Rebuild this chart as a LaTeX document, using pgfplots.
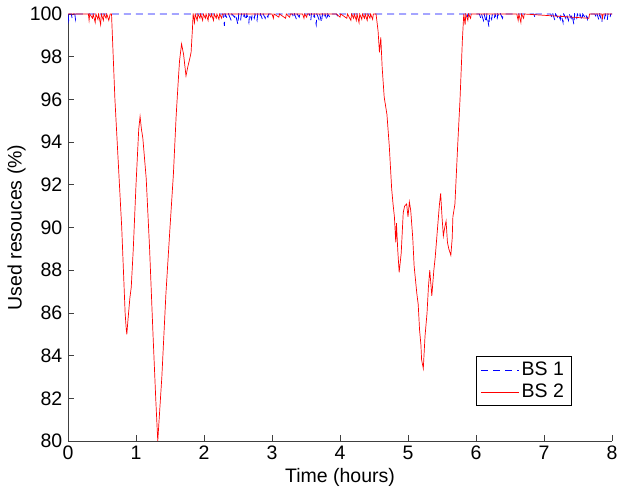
\documentclass[border=0pt]{standalone}
\usepackage{pgfplots}
\pgfplotsset{compat=1.18}
\usepackage{fontspec}
\setmainfont{Liberation Sans}
\begin{document}
\fontsize{19.5bp}{23bp}\selectfont
\begin{tikzpicture}
\begin{axis}[
  scale only axis,
  width=544bp, height=427bp,
  xmin=0, xmax=8, ymin=80, ymax=100,
  xtick={0,1,...,8},
  ytick={80,82,...,100},
  axis x line*=bottom, axis y line*=left,
  axis line style={black!75, line width=0.7pt},
  tick style={black!75, line width=0.7pt},
  tick align=inside,
  major tick length=6bp,
  /pgf/number format/assume math mode=true,
  ticklabel style={font=\fontsize{19.5bp}{23bp}\selectfont},
  label style={font=\fontsize{19.5bp}{23bp}\selectfont},
  xlabel={Time (hours)},
  ylabel={Used resouces (\%)},
  xlabel style={yshift=4bp},
  ylabel style={yshift=-9bp},
  xticklabel style={yshift=2bp},
  yticklabel style={xshift=1bp},
  legend style={at={(0.925,0.082)}, anchor=south east, line width=0.6pt,
    font=\fontsize{19.5bp}{23bp}\selectfont, inner xsep=5bp, inner ysep=3bp, row sep=2bp,
    cells={anchor=west}},
  legend image code/.code={\draw[#1, line width=0.7pt] (0bp,0bp) -- (38bp,0bp);},
  clip=true,
]
\addplot[blue, line width=0.8pt, dash pattern=on 7bp off 5bp] coordinates {
(0,100)(0.01,99.7)(0.02,100)(0.05,100)(0.06,99.8)(0.07,100)(0.1,100)(0.11,99.75)(0.12,100)
(2.28,100)(2.30,99.45)(2.31,100)(2.34,99.8)(2.36,100)(2.40,99.7)(2.41,100)(2.45,99.85)(2.46,100)(2.50,99.5)(2.51,100)(2.54,99.75)(2.55,100)(2.58,99.8)(2.59,100)(2.62,99.7)(2.63,100)(2.66,99.6)(2.67,100)(2.70,99.75)(2.71,100)(2.74,99.8)(2.75,100)(2.78,99.7)(2.79,100)(2.82,99.85)(2.83,100)(2.86,99.75)(2.87,100)(2.90,99.8)(2.91,100)(2.94,99.85)(2.95,100)
(3.30,100)(3.32,99.8)(3.33,100)(3.36,99.75)(3.37,100)(3.40,99.85)(3.41,100)
(3.55,100)(3.57,99.7)(3.58,100)(3.61,99.8)(3.62,100)(3.65,99.5)(3.66,100)(3.69,99.75)(3.70,100)(3.73,99.6)(3.74,100)(3.77,99.8)(3.78,100)(3.81,99.7)(3.82,100)(3.85,99.85)(3.86,100)
(3.95,100)(3.97,99.85)(3.98,100)
(5.85,100)(5.87,99.8)(5.88,100)
(6.05,100)(6.07,99.8)(6.08,100)(6.11,99.7)(6.12,100)(6.15,99.6)(6.16,100)(6.19,99.4)(6.20,100)(6.23,99.75)(6.24,100)(6.27,99.8)(6.28,100)(6.31,99.7)(6.32,100)(6.35,99.85)(6.36,100)(6.39,99.8)(6.40,100)
(6.85,100)(6.87,99.8)(6.88,100)
(7.10,100)(7.12,99.8)(7.13,100)(7.16,99.7)(7.17,100)(7.20,99.85)(7.21,100)(7.24,99.75)(7.25,100)(7.28,99.6)(7.29,100)(7.32,99.8)(7.33,100)(7.36,99.7)(7.37,100)(7.40,99.8)(7.41,100)(7.44,99.5)(7.45,100)(7.48,99.75)(7.49,100)(7.52,99.8)(7.53,100)(7.56,99.7)(7.57,100)(7.60,99.85)(7.61,100)(7.64,99.75)(7.65,100)
(7.75,100)(7.77,99.8)(7.78,100)(7.81,99.7)(7.82,100)(7.85,99.6)(7.86,100)(7.89,99.8)(7.90,100)(7.93,99.7)(7.94,100)(7.97,99.8)(7.98,100)(8,100)
};
\addlegendentry{BS 1}
\addplot[red, line width=0.7pt] coordinates {
(0,100)(0.30,100)(0.31,99.7)(0.32,100)(0.36,99.8)(0.37,100)(0.40,99.6)(0.41,100)(0.44,99.75)(0.45,100)(0.48,99.5)(0.49,100)(0.52,99.7)(0.53,100)(0.56,99.8)(0.57,100)(0.60,99.7)(0.62,100)(0.64,100)
(0.69,96)(0.74,93)(0.79,90)(0.84,86)(0.855,85.3)(0.865,85.0)(0.88,85.6)(0.91,86.7)(0.93,87.2)(0.96,89)(1.0,92)(1.04,94.6)(1.06,95.2)(1.08,94.6)(1.10,94.2)(1.15,92.3)(1.2,89)(1.25,85)(1.29,82)(1.32,80.0)(1.34,81)(1.38,83)(1.44,86.9)(1.5,90)(1.55,92.5)(1.59,95.2)(1.62,96.8)(1.64,97.8)(1.67,98.6)(1.70,98.1)(1.735,97.1)(1.76,97.5)(1.79,97.9)(1.81,98.2)(1.83,99.3)(1.84,100)
(1.86,99.6)(1.87,100)(1.90,99.7)(1.91,100)(1.94,99.8)(1.95,100)(1.98,99.7)(1.99,100)(2.02,99.8)(2.03,100)(2.06,99.7)(2.07,100)(2.10,99.85)(2.11,100)(2.14,99.7)(2.15,100)(2.18,99.8)(2.19,100)(2.22,99.75)(2.23,100)(2.26,99.8)(2.27,100)
(3.00,100)(3.02,99.8)(3.03,100)(3.10,99.85)(3.11,100)(3.20,99.8)(3.21,100)(3.26,99.85)(3.27,100)
(3.45,100)(3.47,99.8)(3.48,100)(3.51,99.85)(3.52,100)
(3.95,100)(4.00,99.85)(4.01,100)(4.10,99.8)(4.11,100)(4.16,99.7)(4.17,100)(4.20,99.8)(4.21,100)(4.24,99.7)(4.25,100)(4.28,99.6)(4.29,100)(4.32,99.75)(4.33,100)(4.36,99.8)(4.37,100)(4.40,99.7)(4.41,100)(4.44,99.8)(4.45,100)(4.48,99.75)(4.49,100)(4.53,100)
(4.56,99.2)(4.58,98.2)(4.6,98.9)(4.62,97.5)(4.65,96.1)(4.69,95.3)(4.725,93.8)(4.76,91.8)(4.78,91.1)(4.80,90.5)(4.82,89.3)(4.83,90.2)(4.85,88.9)(4.87,87.9)(4.90,88.8)(4.93,90.7)(4.95,91.0)(4.98,91.1)(5.0,90.5)(5.02,91.2)(5.04,90.8)(5.07,89.5)(5.09,88.2)(5.13,86.9)(5.15,86.4)(5.17,85.2)(5.19,84.5)(5.20,83.8)(5.225,83.4)(5.25,84.9)(5.28,86.0)(5.30,87.2)(5.32,88.0)(5.35,86.8)(5.38,88.0)(5.40,88.6)(5.42,89.4)(5.44,90.2)(5.46,91.0)(5.48,91.6)(5.50,90.5)(5.52,89.6)(5.54,90.0)(5.56,90.3)(5.58,89.3)(5.60,89.0)(5.63,88.7)(5.65,89.5)(5.66,90.5)(5.69,91.1)(5.73,93.8)(5.765,96.0)(5.80,98.8)(5.82,100)(5.84,99.5)(5.85,100)(5.88,99.7)(5.89,100)(5.92,99.8)(5.93,100)
(6.60,100)(6.62,99.7)(6.63,100)(6.66,99.6)(6.67,100)(6.70,99.8)(6.71,100)
(7.66,99.8)(7.67,100)(7.85,100)(7.86,99.8)(7.87,100)(8,100)
};
\addlegendentry{BS 2}
\end{axis}
\pgfresetboundingbox
\path ([shift={(-68bp,-49bp)}]current axis.south west) rectangle ([shift={(5bp,14bp)}]current axis.north east);
\end{tikzpicture}
\end{document}
